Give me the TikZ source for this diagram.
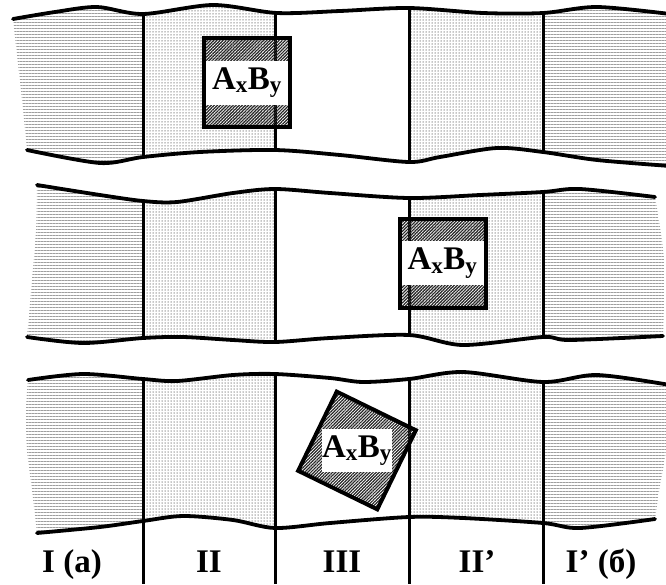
\documentclass[tikz,border=0pt]{standalone}
\usepackage{fontspec}
\setmainfont{Liberation Serif}
\usetikzlibrary{patterns.meta}
\tikzset{
  zoneI/.style  ={pattern={Lines[angle=0,distance=3pt,line width=1pt]}, pattern color=black!38},
  zoneII/.style ={pattern={Dots[distance=3pt,radius=0.75pt]}, pattern color=black!45},
  wall/.style   ={line width=3pt},
  edge/.style   ={line width=3.8pt, line cap=round},
  crystal/.style={draw, line width=4pt, minimum width=86pt, minimum height=89pt, inner sep=0pt,
                  pattern={Lines[angle=45,distance=2.2pt,line width=1.2pt]}, pattern color=black!85},
  band/.style   ={fill=white, inner sep=0pt, minimum height=44pt, font=\fontsize{33}{33}\selectfont\bfseries},
  colname/.style={anchor=base, font=\fontsize{33}{33}\selectfont\bfseries},
}
\newcommand{\AxBy}{A\textsubscript{x}B\textsubscript{y}}

\begin{document}
\begin{tikzpicture}[x=1pt,y=-1pt]
  \useasboundingbox (0,0) rectangle (666,584);
  % first row
  \begin{scope}
    \clip plot[smooth] coordinates {(13,19) (55,12) (97,7) (143,14) (213,5) (277,13) (340,11) (409,8) (483,13) (543,13) (597,7) (670,14)}
      -- plot[smooth] coordinates {(670,14) (672,90) (670,166)}
      -- plot[smooth] coordinates {(670,166) (597,160) (543,152) (497,148) (440,157) (409,162) (340,155) (275,150) (200,152) (143,157) (100,163) (27,150)}
      -- plot[smooth] coordinates {(27,150) (22,100) (17,55) (13,19)} -- cycle;
    \foreach \xa/\xb/\st in {0/143/zoneI, 143/275/zoneII, 409/543/zoneII, 543/680/zoneI}
      \path[\st] (\xa,0) rectangle (\xb,600);
    \foreach \x in {143,275,409,543} \draw[wall] (\x,0) -- (\x,600);
  \end{scope}
  \draw[edge] plot[smooth] coordinates {(13,19) (55,12) (97,7) (143,14) (213,5) (277,13) (340,11) (409,8) (483,13) (543,13) (597,7) (670,14)};
  \draw[edge] plot[smooth] coordinates {(670,166) (597,160) (543,152) (497,148) (440,157) (409,162) (340,155) (275,150) (200,152) (143,157) (100,163) (27,150)};
  % second row
  \begin{scope}
    \clip plot[smooth] coordinates {(37,185) (100,195) (143,201) (177,202) (233,193) (275,189) (330,193) (409,198) (480,195) (543,192) (580,189) (655,197)}
      -- plot[smooth] coordinates {(655,197) (664,260) (663,336)}
      -- plot[smooth] coordinates {(663,336) (570,340) (543,337) (463,345) (409,335) (330,338) (275,342) (233,340) (183,337) (143,338) (83,343) (27,337)}
      -- plot[smooth] coordinates {(27,337) (32,280) (36,230) (37,185)} -- cycle;
    \foreach \xa/\xb/\st in {0/143/zoneI, 143/275/zoneII, 409/543/zoneII, 543/680/zoneI}
      \path[\st] (\xa,0) rectangle (\xb,600);
    \foreach \x in {143,275,409,543} \draw[wall] (\x,0) -- (\x,600);
  \end{scope}
  \draw[edge] plot[smooth] coordinates {(37,185) (100,195) (143,201) (177,202) (233,193) (275,189) (330,193) (409,198) (480,195) (543,192) (580,189) (655,197)};
  \draw[edge] plot[smooth] coordinates {(663,336) (570,340) (543,337) (463,345) (409,335) (330,338) (275,342) (233,340) (183,337) (143,338) (83,343) (27,337)};
  % third row
  \begin{scope}
    \clip plot[smooth] coordinates {(28,380) (83,374) (143,379) (177,381) (233,375) (275,374) (330,378) (363,382) (409,379) (463,372) (543,382) (597,375) (670,385)}
      -- plot[smooth] coordinates {(670,385) (666,450) (660,485) (655,519)}
      -- plot[smooth] coordinates {(655,519) (580,528) (543,523) (463,518) (409,517) (330,523) (275,528) (233,520) (183,516) (143,521) (100,527) (37,533)}
      -- plot[smooth] coordinates {(37,533) (32,490) (27,450) (26,410) (28,380)} -- cycle;
    \foreach \xa/\xb/\st in {0/143/zoneI, 143/275/zoneII, 409/543/zoneII, 543/680/zoneI}
      \path[\st] (\xa,0) rectangle (\xb,600);
  \end{scope}
  \foreach \x/\y in {143/379, 275/374, 409/379, 543/382} \draw[wall] (\x,\y) -- (\x,584);
  \draw[edge] plot[smooth] coordinates {(28,380) (83,374) (143,379) (177,381) (233,375) (275,374) (330,378) (363,382) (409,379) (463,372) (543,382) (597,375) (670,385)};
  \draw[edge] plot[smooth] coordinates {(655,519) (580,528) (543,523) (463,518) (409,517) (330,523) (275,528) (233,520) (183,516) (143,521) (100,527) (37,533)};
  % crystals
  \node[crystal] (c1) at (247,82.5) {};
  \node[band, minimum width=82pt] (t1) at (c1) {\AxBy};
  \node[crystal] (c2) at (442.5,263) {};
  \node[band, minimum width=82pt] (t2) at (c2) {\AxBy};
  \node[crystal, minimum size=88pt, rotate=-26] (c3) at (357,450.5) {};
  \node[band, minimum width=70pt, minimum height=43pt] (t3) at (c3) {\AxBy};
  % zone names
  \foreach \x/\t [count=\i] in {72/{I (а)}, 209/II, 342/III, 477/II’, 601/{I’ (б)}}
    \node[colname] (z\i) at (\x,572) {\t};
\end{tikzpicture}
\end{document}
